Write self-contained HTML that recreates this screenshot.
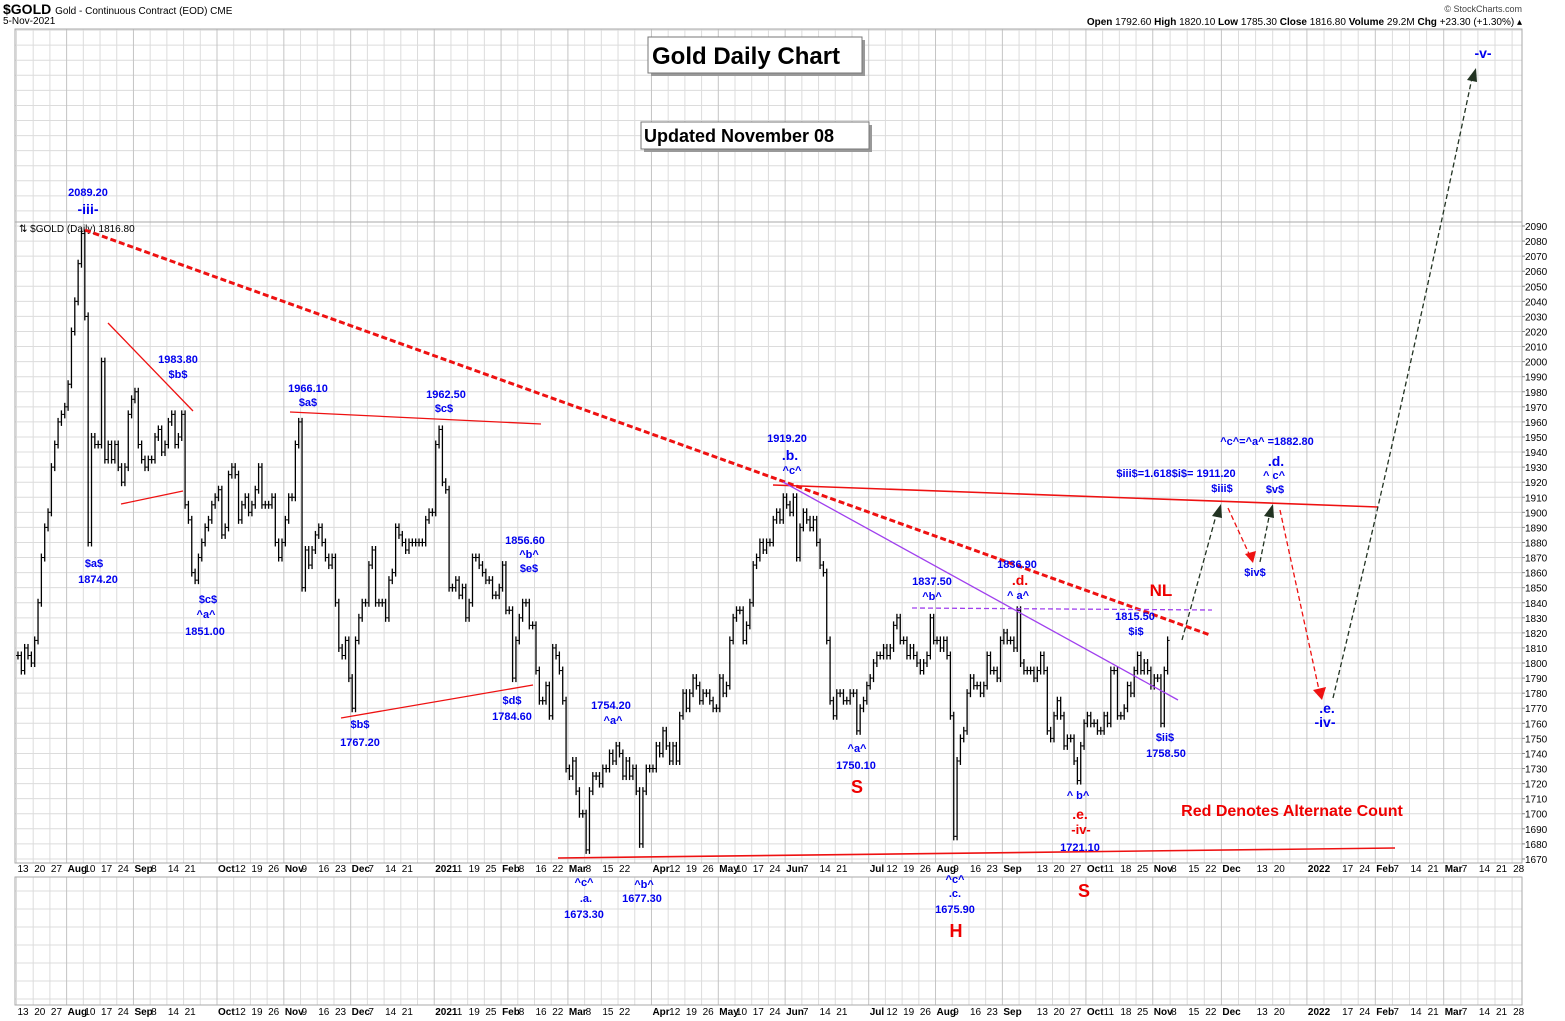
<!DOCTYPE html>
<html><head><meta charset="utf-8"><style>
body{margin:0;background:#fff;}
svg{display:block;font-family:"Liberation Sans",Arial,sans-serif;}
.b{fill:#0000ee;font-weight:bold;font-size:11px;text-anchor:middle;}
.bl{fill:#0000ee;font-weight:bold;font-size:14px;text-anchor:middle;}
.r{fill:#ee0000;font-weight:bold;text-anchor:middle;}
.ax{font-size:10px;fill:#000;}
</style></head><body>
<svg id="chart" width="1565" height="1021" viewBox="0 0 1565 1021">
<g id="grid"></g>
<g id="bars"></g>
<g id="axes"></g>
<g id="ann">
 <text x="3" y="14" style="font-weight:bold;font-size:14px">$GOLD <tspan style="font-weight:normal;font-size:10px">Gold - Continuous Contract (EOD) CME</tspan></text>
 <text x="3" y="24" style="font-size:10px">5-Nov-2021</text>
 <text x="1522" y="12" style="font-size:9px;fill:#444" text-anchor="end">© StockCharts.com</text>
 <text x="1522" y="25" style="font-size:10px" text-anchor="end"><tspan font-weight="bold">Open</tspan> 1792.60 <tspan font-weight="bold">High</tspan> 1820.10 <tspan font-weight="bold">Low</tspan> 1785.30 <tspan font-weight="bold">Close</tspan> 1816.80 <tspan font-weight="bold">Volume</tspan> 29.2M <tspan font-weight="bold">Chg</tspan> +23.30 (+1.30%) ▴</text>
 <text x="19" y="232" style="font-size:10px">⇅ $GOLD (Daily) 1816.80</text>

 <g>
  <rect x="651" y="40" width="214" height="36" fill="#999"/>
  <rect x="648" y="37" width="214" height="36" fill="#fff" stroke="#777"/>
  <text x="652" y="64" style="font-weight:bold;font-size:24px">Gold Daily Chart</text>
 </g>
 <g>
  <rect x="644" y="125" width="228" height="27" fill="#999"/>
  <rect x="641" y="122" width="228" height="27" fill="#fff" stroke="#777"/>
  <text x="644" y="142" style="font-weight:bold;font-size:18px">Updated November 08</text>
 </g>

 <line x1="85" y1="230" x2="1210" y2="635" stroke="#ee1111" stroke-width="3" stroke-dasharray="6,3"/>
 <line x1="108" y1="323" x2="193" y2="411" stroke="#ee1111" stroke-width="1.3"/>
 <line x1="121" y1="504" x2="183" y2="491" stroke="#ee1111" stroke-width="1.3"/>
 <line x1="290" y1="412" x2="541" y2="424" stroke="#ee1111" stroke-width="1.3"/>
 <line x1="341" y1="718" x2="533" y2="685" stroke="#ee1111" stroke-width="1.3"/>
 <line x1="558" y1="858" x2="1395" y2="848" stroke="#ee1111" stroke-width="1.6"/>
 <line x1="773" y1="485" x2="1378" y2="507" stroke="#ee1111" stroke-width="1.6"/>
 <line x1="783" y1="482" x2="1178" y2="700" stroke="#a040ee" stroke-width="1.3"/>
 <line x1="912" y1="608" x2="1212" y2="610" stroke="#a040ee" stroke-width="1.3" stroke-dasharray="5,3"/>

 <g fill="none" stroke-width="1.3" stroke-dasharray="5,3">
  <line x1="1182" y1="640" x2="1217" y2="512" stroke="#223322"/>
  <line x1="1228" y1="508" x2="1250" y2="556" stroke="#ee1111"/>
  <line x1="1260" y1="562" x2="1270" y2="512" stroke="#223322"/>
  <line x1="1280" y1="510" x2="1319" y2="690" stroke="#ee1111"/>
  <path d="M1333 698 Q1400 420 1472 78" stroke="#223322"/>
 </g>
 <polygon points="1212,516 1221,504 1222,518" fill="#223322"/>
 <polygon points="1245,554 1256,551 1253,563" fill="#ee1111"/>
 <polygon points="1264,516 1273,504 1274,518" fill="#223322"/>
 <polygon points="1313,690 1326,687 1322,700" fill="#ee1111"/>
 <polygon points="1467,80 1476,68 1477,82" fill="#223322"/>

 <text class="b" x="88" y="196">2089.20</text><text class="bl" x="88" y="214">-iii-</text>
 <text class="b" x="178" y="363">1983.80</text><text class="b" x="178" y="378">$b$</text>
 <text class="b" x="94" y="567">$a$</text><text class="b" x="98" y="583">1874.20</text>
 <text class="b" x="208" y="603">$c$</text><text class="b" x="206" y="618">^a^</text><text class="b" x="205" y="635">1851.00</text>
 <text class="b" x="308" y="392">1966.10</text><text class="b" x="308" y="406">$a$</text>
 <text class="b" x="446" y="398">1962.50</text><text class="b" x="444" y="412">$c$</text>
 <text class="b" x="525" y="544">1856.60</text><text class="b" x="529" y="558">^b^</text><text class="b" x="529" y="572">$e$</text>
 <text class="b" x="360" y="728">$b$</text><text class="b" x="360" y="746">1767.20</text>
 <text class="b" x="512" y="704">$d$</text><text class="b" x="512" y="720">1784.60</text>
 <text class="b" x="611" y="709">1754.20</text><text class="b" x="613" y="724">^a^</text>
 <text class="b" x="584" y="886">^c^</text><text class="b" x="586" y="902">.a.</text><text class="b" x="584" y="918">1673.30</text>
 <text class="b" x="644" y="888">^b^</text><text class="b" x="642" y="902">1677.30</text>
 <text class="b" x="787" y="442">1919.20</text><text class="bl" x="790" y="460">.b.</text><text class="b" x="792" y="474">^c^</text>
 <text class="b" x="932" y="585">1837.50</text><text class="b" x="932" y="600">^b^</text>
 <text class="b" x="1017" y="568">1836.90</text><text class="r" x="1020" y="585" font-size="14">.d.</text><text class="b" x="1018" y="599">^ a^</text>
 <text class="b" x="857" y="752">^a^</text><text class="b" x="856" y="769">1750.10</text>
 <text class="b" x="955" y="883">^c^</text><text class="b" x="955" y="897">.c.</text><text class="b" x="955" y="913">1675.90</text>
 <text class="b" x="1078" y="799">^ b^</text><text class="r" x="1080" y="819" font-size="14">.e.</text><text class="r" x="1081" y="834" font-size="13">-iv-</text><text class="b" x="1080" y="851">1721.10</text>
 <text class="b" x="1135" y="620">1815.50</text><text class="b" x="1136" y="635">$i$</text>
 <text class="b" x="1165" y="741">$ii$</text><text class="b" x="1166" y="757">1758.50</text>
 <text class="b" x="1267" y="445">^c^=^a^ =1882.80</text>
 <text class="b" x="1176" y="477">$iii$=1.618$i$= 1911.20</text><text class="b" x="1222" y="492">$iii$</text>
 <text class="bl" x="1276" y="466">.d.</text><text class="b" x="1274" y="479">^ c^</text><text class="b" x="1275" y="493">$v$</text>
 <text class="b" x="1255" y="576">$iv$</text>
 <text class="bl" x="1327" y="713">.e.</text><text class="bl" x="1325" y="727">-iv-</text>
 <text class="bl" x="1483" y="58">-v-</text>
 <text class="r" x="857" y="793" font-size="18">S</text>
 <text class="r" x="956" y="937" font-size="18">H</text>
 <text class="r" x="1084" y="897" font-size="18">S</text>
 <text class="r" x="1161" y="596" font-size="17">NL</text>
 <text class="r" x="1292" y="816" font-size="16">Red Denotes Alternate Count</text>
</g>
</svg>
<script>
// ---- data ----
const closes = [
1805,1795,1810,1805,1800, 1815,1840,1870,1890,1900, 1930,1945,1960,1965,1970,
1985,2020,2040,2065,2085, 2030,1880,1950,1945,1945, 2000,1935,1945,1935,1945,
1930,1920,1930,1965,1975, 1980,1945,1935,1930,1935, 1935,1950,1955,1940,1945,
1960,1965,1945,1950,1965, 1905,1895,1860,1855,1870, 1880,1890,1895,1905,1910,
1915,1885,1890,1925,1930, 1925,1895,1905,1910,1900, 1905,1915,1930,1905,1905,
1905,1910,1880,1870,1880, 1895,1910,1910,1945,1960, 1850,1875,1865,1875,1885,
1890,1880,1870,1865,1870, 1840,1810,1805,1815,1790, 1770,1815,1830,1840,1840,
1865,1875,1840,1840,1840, 1830,1855,1860,1890,1885, 1880,1875,1880,1880,1880,
1880,1880,1895,1900,1900, 1945,1955,1920,1915,1850, 1850,1855,1845,1850,1830,
1840,1870,1870,1865,1860, 1855,1855,1845,1845,1850, 1865,1835,1835,1790,1815,
1830,1840,1840,1825,1825, 1795,1775,1775,1785,1765, 1810,1805,1795,1775,1730,
1725,1735,1715,1700,1700, 1676,1715,1725,1725,1720, 1730,1730,1740,1735,1745,
1740,1725,1735,1725,1730, 1715,1680,1715,1730,1730, 1730,1745,1740,1755,1745,
1735,1745,1735,1765,1780, 1770,1780,1790,1785,1775, 1780,1780,1775,1770,1770,
1790,1780,1785,1815,1830, 1835,1835,1815,1825,1840, 1865,1870,1880,1875,1880,
1880,1895,1900,1895,1910, 1905,1900,1910,1870,1890, 1900,1895,1890,1895,1880,
1865,1860,1815,1775,1765, 1780,1780,1775,1775,1780, 1780,1755,1770,1775,1785,
1790,1800,1805,1805,1810, 1805,1810,1825,1830,1815, 1815,1805,1810,1805,1800,
1795,1800,1805,1830,1815, 1815,1810,1815,1805,1765, 1685,1735,1750,1755,1780,
1790,1785,1785,1780,1785, 1805,1795,1795,1790,1815, 1820,1815,1815,1810,1835,
1800,1795,1795,1795,1790, 1795,1805,1795,1755,1750, 1765,1775,1765,1745,1750,
1750,1735,1722,1745,1760, 1765,1760,1760,1755,1755, 1765,1760,1795,1795,1765,
1765,1770,1785,1780,1795, 1805,1795,1800,1795,1785, 1790,1790,1760,1795,1815];
const priceTicks = [1670,1680,1690,1700,1710,1720,1730,1740,1750,1760,1770,1780,1790,1800,1810,1820,1830,1840,1850,1860,1870,1880,1890,1900,1910,1920,1930,1940,1950,1960,1970,1980,1990,2000,2010,2020,2030,2040,2050,2060,2070,2080,2090];
const weekLabelIdx = [0,1,2,3,4,5,6,7,8,9,10,12,13,14,15,16,17,18,19,20,21,22,23,25,26,27,28,29,30,31,32,33,34,35,36,38,39,40,41,42,43,44,45,46,47,48,49,51,52,53,54,55,56,57,58,59,61,62,63,64,65,66,67,68,69,70,71,72,74,75,77,79,80,81,82,83,84,85,86,87,88,89];
const weekLabels = ["13","20","27","Aug","10","17","24","Sep","8","14","21","Oct","12","19","26","Nov","9","16","23","Dec","7","14","21","2021","11","19","25","Feb","8","16","22","Mar","8","15","22","Apr","12","19","26","May","10","17","24","Jun","7","14","21","Jul","12","19","26","Aug","9","16","23","Sep","13","20","27","Oct","11","18","25","Nov","8","15","22","Dec","13","20","2022","17","24","Feb","7","14","21","Mar","7","14","21","28"];
const monthWeeks = [3,7,12,16,20,25,29,33,38,42,46,51,55,59,64,68,72,77,81,85];

// ---- scales ----
const NS='http://www.w3.org/2000/svg';
const X0=15, X1=1522, PT=222, PB=863, LT=877, LB=1005;
function yP(p){return 226+(2090-p)*1.507;}
function wx(w){return w<=68 ? 217+16.71*(w-12) : 1153+17.1*(w-68);}
function dx(i){return wx(Math.floor(i/5))+(i%5)*3.34+1.5;}
function mk(tag,attrs,parent){const e=document.createElementNS(NS,tag);for(const k in attrs)e.setAttribute(k,attrs[k]);parent.appendChild(e);return e;}

const grid=document.getElementById('grid'), bars=document.getElementById('bars'), axes=document.getElementById('axes');
for(let y=yP(2090)-15.07; y>29; y-=15.07){ mk('line',{x1:X0,x2:X1,y1:y,y2:y,stroke:'#dcdcdc'},grid); }
priceTicks.forEach(p=>{mk('line',{x1:X0,x2:X1,y1:yP(p),y2:yP(p),stroke:'#dcdcdc'},grid);});
for(let y=LT+14;y<LB;y+=18) mk('line',{x1:X0,x2:X1,y1:y,y2:y,stroke:'#dcdcdc'},grid);
for(let w=0;w<=89;w++){
  const major=monthWeeks.indexOf(w)>=0;
  const c=major?'#c4c4c4':'#dcdcdc';
  [[29,PT],[PT,PB],[LT,LB]].forEach(r=>mk('line',{x1:wx(w),x2:wx(w),y1:r[0],y2:r[1],stroke:c},grid));
}
[[29,PT],[PT,PB],[LT,LB]].forEach(r=>mk('rect',{x:X0,y:r[0],width:X1-X0,height:r[1]-r[0],fill:'none',stroke:'#aaa'},grid));

for(let i=0;i<closes.length;i++){
  const c=closes[i], p=i>0?closes[i-1]:c;
  const hi=Math.max(c,p), lo=Math.min(c,p);
  const x=dx(i);
  const g=mk('g',{},bars);
  
  
  mk('line',{x1:x,x2:x,y1:yP(hi)-4,y2:yP(lo)+4,stroke:'#000','stroke-width':1.3},g);
  mk('line',{x1:x,x2:x+2,y1:yP(c),y2:yP(c),stroke:'#000','stroke-width':1},g);
  mk('line',{x1:x-2,x2:x,y1:yP(p),y2:yP(p),stroke:'#000','stroke-width':1},g);
}
priceTicks.forEach(p=>{
  mk('line',{x1:X1,x2:X1+3,y1:yP(p),y2:yP(p),stroke:'#888'},axes);
  const t=mk('text',{x:X1+3,y:yP(p)+4,class:'ax'},axes);
  
  
  t.textContent=p;
});
weekLabelIdx.forEach((w,k)=>{
  [872,1015].forEach(yy=>{
    const lab=weekLabels[k];
    const bold=isNaN(+lab)||lab==="2021"||lab==="2022";
    const t=mk('text',{x:wx(w)+1,y:yy,class:'ax','font-weight':bold?'bold':'normal'},axes);
    
    
    t.textContent=lab;
  });
});
</script>
</body></html>
